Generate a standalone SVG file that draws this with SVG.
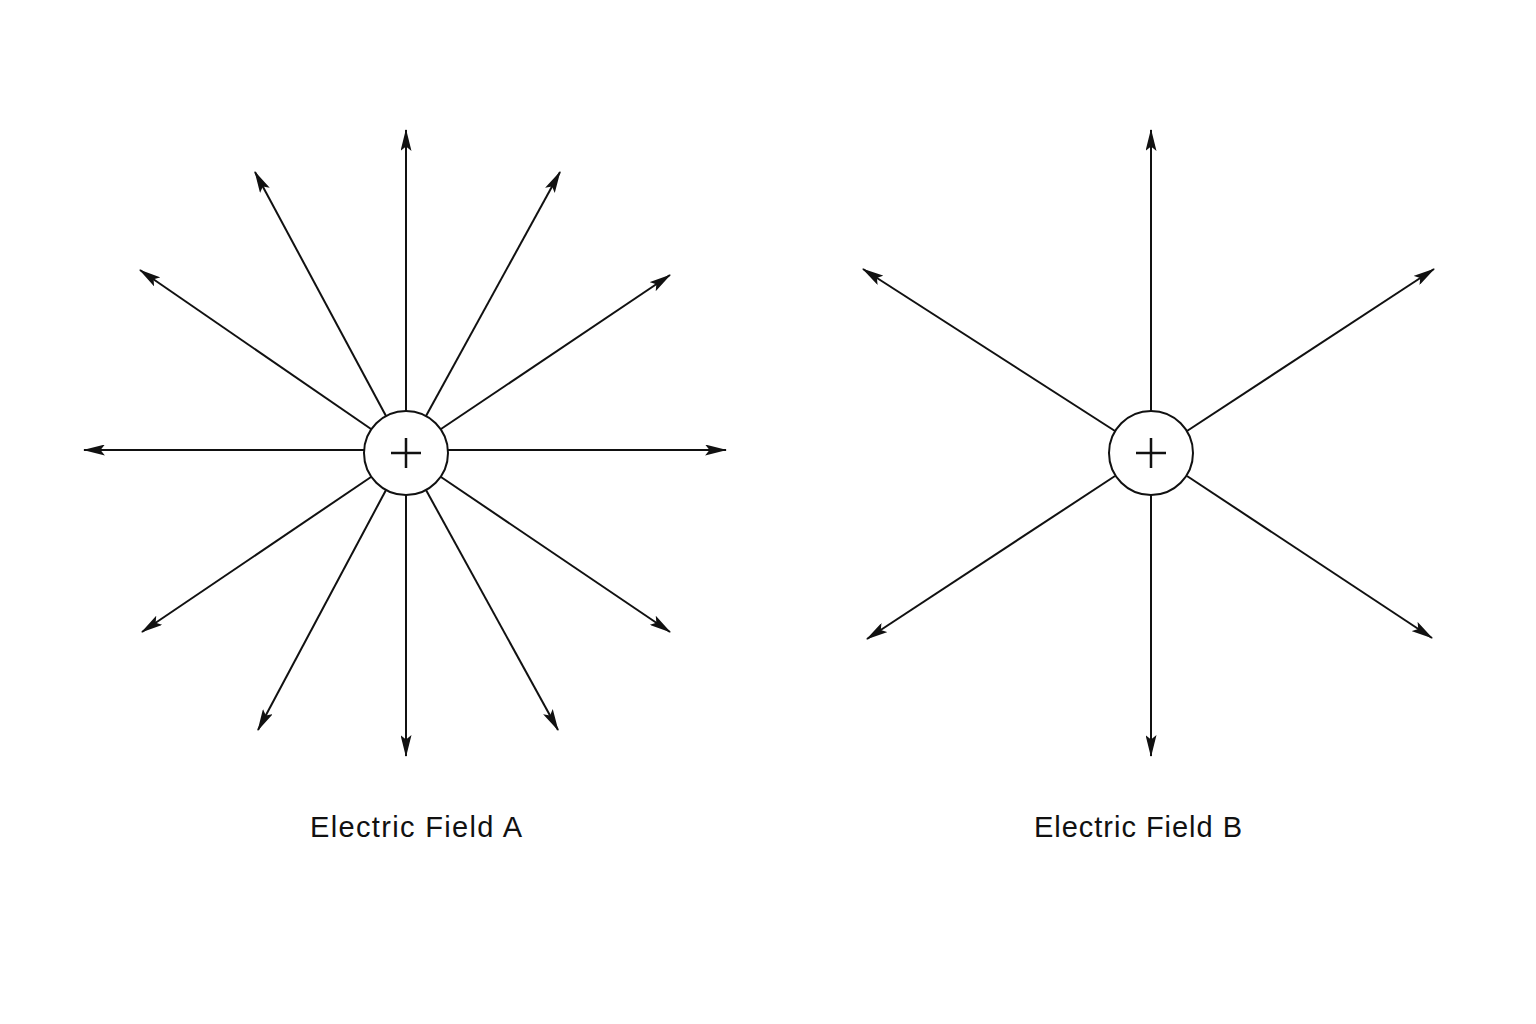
<svg xmlns="http://www.w3.org/2000/svg" width="1536" height="1024" viewBox="0 0 1536 1024">
<style>
.l{stroke:#111;stroke-width:2;fill:none;marker-end:url(#a)}
.c{fill:#fff;stroke:#111;stroke-width:2}
.p{stroke:#111;stroke-width:2.5}
.t{font-family:"Liberation Sans",Arial,sans-serif;font-size:29px;fill:#111;text-anchor:middle}
</style>
<defs><marker id="a" viewBox="0 0 20 10" refX="19" refY="5" markerWidth="11" markerHeight="5.5" markerUnits="strokeWidth" orient="auto"><path d="M0,0 L20,5 L0,10 L4,5 Z" fill="#111"/></marker></defs>
<rect width="1536" height="1024" fill="#fff"/>
<g id="connectors">
<line class="l" x1="406" y1="411" x2="406" y2="130"/>
<line class="l" x1="406" y1="495" x2="406" y2="756"/>
<line class="l" x1="364" y1="450" x2="84" y2="450"/>
<line class="l" x1="448" y1="450" x2="726" y2="450"/>
<line class="l" x1="386" y1="416" x2="255" y2="172"/>
<line class="l" x1="426" y1="416" x2="560" y2="172"/>
<line class="l" x1="371" y1="429" x2="140" y2="270"/>
<line class="l" x1="441" y1="429" x2="670" y2="275"/>
<line class="l" x1="371" y1="477" x2="142" y2="632"/>
<line class="l" x1="441" y1="477" x2="670" y2="632"/>
<line class="l" x1="386" y1="490" x2="258" y2="730"/>
<line class="l" x1="426" y1="490" x2="558" y2="730"/>
<line class="l" x1="1151" y1="411" x2="1151" y2="130"/>
<line class="l" x1="1151" y1="495" x2="1151" y2="756"/>
<line class="l" x1="1115" y1="431" x2="863" y2="269"/>
<line class="l" x1="1187" y1="431" x2="1434" y2="269"/>
<line class="l" x1="1115" y1="476" x2="867" y2="639"/>
<line class="l" x1="1187" y1="476" x2="1432" y2="638"/>
</g>
<g id="chargeA"><circle class="c" cx="406" cy="453" r="42"/><path class="p" d="M391,453 H421 M406,438 V468"/></g>
<g id="chargeB"><circle class="c" cx="1151" cy="453" r="42"/><path class="p" d="M1136,453 H1166 M1151,438 V468"/></g>
<g id="labelA"><text class="t" x="416" y="837" textLength="212" lengthAdjust="spacing">Electric Field A</text></g>
<g id="labelB"><text class="t" x="1138" y="837" textLength="208" lengthAdjust="spacing">Electric Field B</text></g>
</svg>
